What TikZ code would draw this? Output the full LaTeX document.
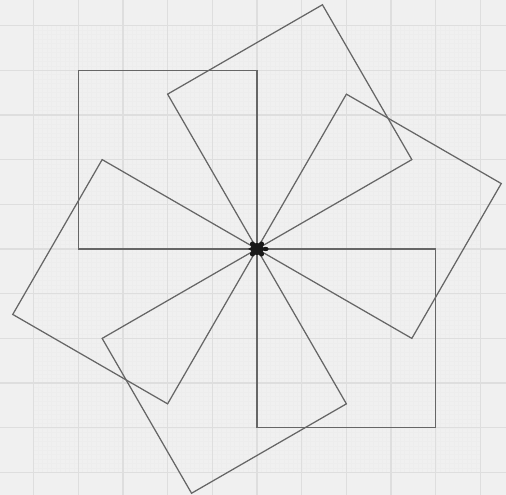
\documentclass[tikz,border=0pt]{standalone}
\begin{document}
\begin{tikzpicture}[x=1pt,y=1pt,
  majorgrid/.style={draw=black!13, line width=1.3pt},
  finegrid/.style={draw=black!7, line width=0.35pt},
  sq/.style={draw=black!60, line width=1.25pt, line join=miter},
  turtlebody/.style={fill=black!90, draw=none}]
\def\u{44.7}
\def\s{178.8}
% background
\fill[black!6] (-257,-246) rectangle (249,249);
\useasboundingbox (-257,-246) rectangle (249,249);
% fine grid
\foreach \i in {-50,...,50}{
  \draw[finegrid] ({\i*\u/10},-223.5) -- ({\i*\u/10},223.5);
  \draw[finegrid] (-223.5,{\i*\u/10}) -- (223.5,{\i*\u/10});
}
% major grid
\foreach \i in {-5,...,5}{
  \draw[majorgrid] ({\i*\u},-246) -- ({\i*\u},249);
  \draw[majorgrid] (-257,{\i*\u}) -- (249,{\i*\u});
}
\coordinate (C) at (0,0);
% squares drawn turtle-style
\foreach \a in {90,30,-30,-90,-150,150}{
  \draw[sq] (C) -- ++(\a:\s) -- ++(\a+90:\s) -- ++(\a+180:\s) -- cycle;
}
% turtle at centre, heading right
\begin{scope}[shift={(C)}]
  \fill[turtlebody] (0,0) ellipse (6.5 and 6);
  \fill[turtlebody] (8.5,0) ellipse (3.2 and 2.2);
  \fill[turtlebody] (4.5,5) circle (2.6);
  \fill[turtlebody] (4.5,-5) circle (2.6);
  \fill[turtlebody] (-4.5,5) circle (2.6);
  \fill[turtlebody] (-4.5,-5) circle (2.6);
  \fill[turtlebody] (-6,1.5) -- (-9,0) -- (-6,-1.5) -- cycle;
\end{scope}
\end{tikzpicture}
\end{document}
